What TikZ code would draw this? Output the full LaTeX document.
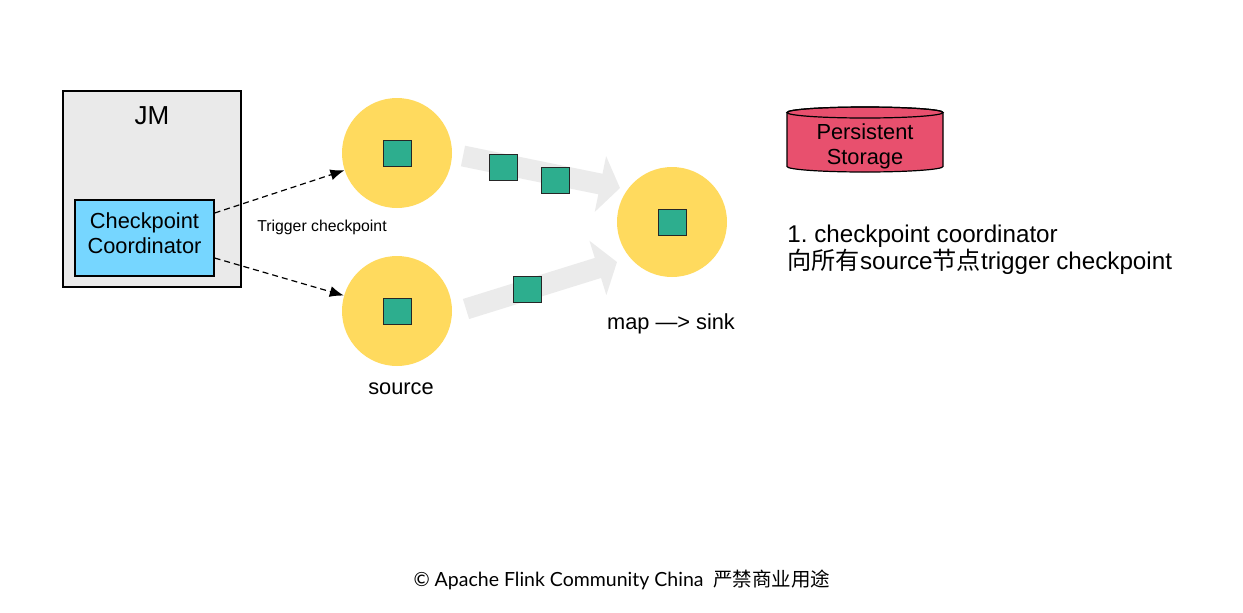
\documentclass[tikz,border=0pt]{standalone}
\usepackage{fontspec}
\setmainfont{Liberation Sans}
\newfontfamily\cjk{Noto Sans CJK SC}
\newfontfamily\footfont{Lato}
\usetikzlibrary{positioning,arrows.meta}
\definecolor{jmgrey}{HTML}{EAEAEA}
\definecolor{coordblue}{HTML}{76D6FF}
\definecolor{taskyellow}{HTML}{FFDA5E}
\definecolor{barrier}{HTML}{2DAE8E}
\definecolor{flowgrey}{HTML}{EBEBEB}
\definecolor{storered}{HTML}{E8506E}
\frenchspacing

\begin{document}
\begin{tikzpicture}[x=0.5pt,y=-0.5pt,
  txt/.style={font=\fontsize{10.9pt}{12.5pt}\selectfont,align=center},
  task/.style={circle,fill=taskyellow,minimum size=55pt,inner sep=0},
  packet/.style={draw=black!85,fill=barrier,line width=0.5pt,minimum width=14pt,minimum height=13pt,inner sep=0},
  flow/.style={draw=flowgrey,line width=10.5pt,-{Triangle[length=10pt,width=28pt]}},
  trigger/.style={dash pattern=on 3pt off 2pt,line width=0.6pt,-{Latex[length=7pt,width=5.5pt]}}]
  \useasboundingbox (0,0) rectangle (1243,612);
  % job manager
  \node[draw=black,fill=jmgrey,line width=0.6pt,minimum width=89pt,minimum height=98pt,inner sep=0] (jm) at (152,189) {};
  \node[font=\fontsize{13pt}{15pt}\selectfont] (jmlabel) at (152,116) {JM};
  \node[draw=black,fill=coordblue,line width=0.6pt,minimum width=69.5pt,minimum height=38pt,inner sep=0] (coord) at (144.5,238) {};
  \node[txt] (coordlabel) at (144.5,233) {Checkpoint\\Coordinator};
  % data flow
  \coordinate (flowAin) at (463,156); \coordinate (flowAout) at (620,188);
  \coordinate (flowBin) at (466,309); \coordinate (flowBout) at (617,262);
  \draw[flow] (flowAin) -- (flowAout);
  \draw[flow] (flowBin) -- (flowBout);
  \node[task] (src1) at (397,153) {};
  \node[task] (src2) at (397,311) {};
  \node[task] (sink) at (672,222) {};
  \def\packet#1#2{\node[packet] (#1) at (#2) {};}
  \packet{bar1}{src1}
  \packet{bar2}{src2}
  \packet{bar3}{sink}
  \packet{bar4}{503,167}
  \packet{bar5}{555,180}
  \packet{bar6}{527,289}
  \node[txt] (srclabel) at (401,389) {source};
  \node[txt] (sinklabel) at (671,324) {map —> sink};
  % trigger
  \draw[trigger] ([yshift=12.5pt]coord.east) -- (src1);
  \draw[trigger] ([yshift=-10pt]coord.east) -- (src2);
  \node[font=\fontsize{7.9pt}{9pt}\selectfont] (triglabel) at (322,227) {Trigger checkpoint};
  % storage
  \path[fill=storered,draw=black,line width=0.6pt] (787,112.5) -- (787,166.5)
    arc[start angle=180,end angle=360,x radius=39pt,y radius=2.75pt] -- (943,112.5)
    arc[start angle=0,end angle=180,x radius=39pt,y radius=2.75pt] -- cycle;
  \draw[line width=0.6pt] (865,112.5) ellipse[x radius=39pt,y radius=2.75pt];
  \node[txt] (store) at (865,146) {Persistent\\Storage};
  \node[anchor=west,align=left,inner sep=0,font=\fontsize{12.1pt}{13.5pt}\selectfont] (note) at (787,250)
    {1. checkpoint coordinator\\{\cjk 向所有}source{\cjk 节点}trigger checkpoint};
  \node[font=\footfont\fontsize{9.75pt}{11pt}\selectfont] (foot) at (622,580) {© Apache Flink Community China\ \ {\cjk 严禁商业用途}};
\end{tikzpicture}
\end{document}
